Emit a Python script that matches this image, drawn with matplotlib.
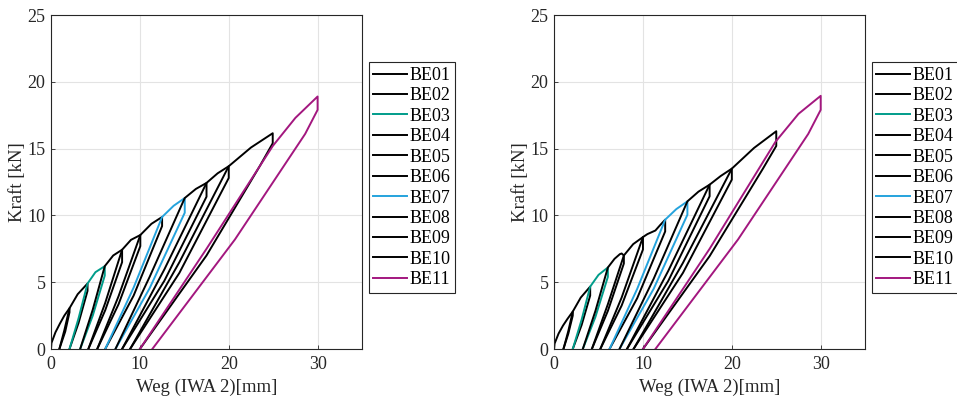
import matplotlib.pyplot as plt
from matplotlib.ticker import MultipleLocator

plt.rcParams['font.family'] = ['Liberation Serif', 'DejaVu Serif']

# === Legend labels and colours ===
labels = ["BE01", "BE02", "BE03", "BE04", "BE05", "BE06",
          "BE07", "BE08", "BE09", "BE10", "BE11"]
colors = ["black", "black", "#009c8a", "black", "black", "black",
          "#25a3dd", "black", "black", "black", "#a3177f"]

# === Left panel: one hysteresis loop per cycle (Weg [mm], Kraft [kN]) ===
left_x = [
    [0.0, 0.05, 0.5, 1.0, 1.5, 2.08, 2.08, 1.6, 0.94],
    [0.94, 1.5, 2.08, 3.0, 4.11, 4.11, 3.1, 2.08],
    [2.08, 3.1, 4.11, 5.0, 6.05, 6.05, 4.7, 3.28],
    [3.28, 4.7, 6.05, 7.0, 8.0, 8.0, 6.1, 4.2],
    [4.2, 6.1, 8.0, 9.0, 10.05, 10.05, 7.6, 5.2],
    [5.2, 7.6, 10.05, 11.3, 12.5, 12.5, 9.3, 6.1],
    [6.1, 9.3, 12.5, 13.8, 15.05, 15.05, 11.1, 7.25],
    [7.25, 11.1, 15.05, 16.3, 17.5, 17.5, 12.75, 8.0],
    [8.0, 12.75, 17.5, 18.75, 20.0, 20.0, 14.45, 8.9],
    [8.9, 14.45, 20.0, 22.5, 24.95, 24.95, 23.5, 17.5, 10.0],
    [10.0, 17.5, 24.96, 27.5, 30.0, 30.0, 28.6, 20.7, 11.4],
]
left_y = [
    [0.0, 0.45, 1.25, 1.9, 2.5, 3.05, 2.75, 1.3, 0.0],
    [0.0, 1.4, 3.05, 4.1, 4.9, 4.35, 1.95, 0.0],
    [0.0, 2.3, 4.9, 5.75, 6.2, 5.5, 2.5, 0.0],
    [0.0, 2.95, 6.2, 7.0, 7.43, 6.5, 2.9, 0.0],
    [0.0, 3.45, 7.43, 8.17, 8.53, 7.7, 3.35, 0.0],
    [0.0, 3.95, 8.53, 9.37, 9.88, 9.2, 4.0, 0.0],
    [0.0, 4.6, 9.88, 10.72, 11.3, 10.2, 4.55, 0.0],
    [0.0, 5.4, 11.3, 11.98, 12.43, 11.4, 5.1, 0.0],
    [0.0, 5.95, 12.43, 13.15, 13.68, 12.8, 5.7, 0.0],
    [0.0, 6.5, 13.68, 15.08, 16.15, 15.4, 13.7, 7.0, 0.0],
    [0.0, 7.5, 15.2, 17.3, 18.9, 17.9, 16.1, 8.2, 0.0],
]

# === Right panel ===
right_x = [
    [0.0, 0.05, 0.5, 1.0, 1.5, 2.1, 2.1, 1.6, 1.05],
    [1.05, 1.6, 2.1, 3.0, 4.06, 4.06, 3.1, 2.1],
    [2.1, 3.1, 4.06, 5.0, 6.05, 6.05, 4.65, 3.23],
    [3.23, 4.65, 6.05, 6.8, 7.4, 7.6, 7.85, 7.85, 6.05, 4.25],
    [4.25, 6.05, 7.85, 8.9, 10.0, 10.0, 7.6, 5.2],
    [5.2, 7.6, 10.0, 10.5, 11.0, 11.4, 11.9, 12.5, 12.5, 9.35, 6.24],
    [6.24, 9.35, 12.5, 13.75, 15.0, 15.0, 11.2, 7.36],
    [7.36, 11.2, 15.0, 16.25, 17.5, 17.5, 12.85, 8.2],
    [8.2, 12.85, 17.5, 18.75, 20.0, 20.0, 14.5, 8.94],
    [8.94, 14.5, 20.0, 22.5, 25.0, 25.0, 23.5, 17.5, 10.0],
    [10.0, 17.5, 24.9, 27.5, 30.0, 30.0, 28.6, 20.7, 11.4],
]
right_y = [
    [0.0, 0.4, 1.15, 1.75, 2.25, 2.8, 2.5, 1.15, 0.0],
    [0.0, 1.35, 2.8, 3.85, 4.67, 4.0, 1.8, 0.0],
    [0.0, 2.2, 4.67, 5.55, 6.1, 5.4, 2.4, 0.0],
    [0.0, 2.85, 6.1, 6.75, 7.1, 7.15, 7.0, 6.4, 2.85, 0.0],
    [0.0, 3.35, 7.0, 7.85, 8.38, 7.45, 3.25, 0.0],
    [0.0, 3.85, 8.38, 8.6, 8.75, 8.87, 9.25, 9.68, 8.8, 3.8, 0.0],
    [0.0, 4.5, 9.68, 10.47, 11.05, 10.05, 4.5, 0.0],
    [0.0, 5.25, 11.05, 11.78, 12.3, 11.43, 5.1, 0.0],
    [0.0, 5.85, 12.3, 12.95, 13.5, 12.68, 5.7, 0.0],
    [0.0, 6.45, 13.5, 15.05, 16.3, 15.2, 13.5, 6.95, 0.0],
    [0.0, 7.5, 15.5, 17.6, 18.95, 17.9, 16.1, 8.2, 0.0],
]

fig = plt.figure(figsize=(9.57, 4.0), dpi=100)
ax_left = fig.add_axes([0.0533, 0.1275, 0.325, 0.835])
ax_right = fig.add_axes([0.579, 0.1275, 0.325, 0.835])

for ax, xs, ys in [(ax_left, left_x, left_y), (ax_right, right_x, right_y)]:
    for x, y, lab, col in zip(xs, ys, labels, colors):
        ax.plot(x, y, color=col, linewidth=1.4, label=lab)

    ax.set_xlim(0, 35)
    ax.set_ylim(0, 25)
    ax.xaxis.set_major_locator(MultipleLocator(10))
    ax.yaxis.set_major_locator(MultipleLocator(5))
    ax.grid(True, color='#e3e3e3', linewidth=0.8)
    ax.set_axisbelow(True)
    ax.tick_params(direction='in', length=3, width=0.6, labelsize=13,
                   colors='#262626', top=False, right=False, pad=4)
    ax.tick_params(axis='x', pad=5)
    for spine in ax.spines.values():
        spine.set_color('#262626')
        spine.set_linewidth(0.8)
    ax.set_xlabel('Weg (IWA 2)[mm]', fontsize=13.5, color='#262626', labelpad=4)
    ax.set_ylabel('Kraft [kN]', fontsize=13.5, color='#262626', labelpad=1)

    leg = ax.legend(loc='upper left', bbox_to_anchor=(1.022, 0.858),
                    fontsize=13, frameon=True, fancybox=False,
                    edgecolor='#262626', framealpha=1.0,
                    handlelength=1.85, handletextpad=0.17,
                    labelspacing=0.19, borderpad=0.25, borderaxespad=0)
    leg.get_frame().set_linewidth(0.8)

fig.savefig('out.png', dpi=100)
